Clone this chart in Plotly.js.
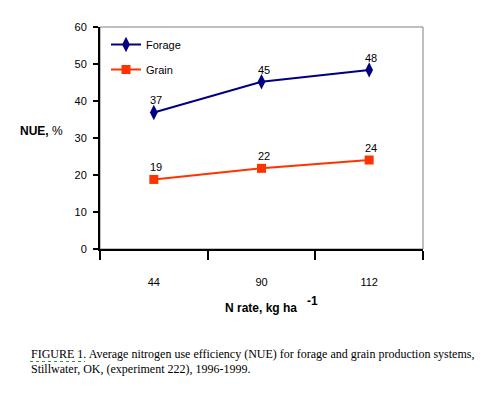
<!DOCTYPE html>
<html><head><meta charset="utf-8">
<script src="https://cdn.plot.ly/plotly-3.0.1.min.js"></script>
<style>body{margin:0;background:#fff}#chart{width:496px;height:395px}</style>
</head><body><div id="chart"></div>
<script>
const categories = ["44", "90", "112"];
const forage = [36.9, 45.2, 48.4];
const grain = [18.8, 21.8, 24.05];
const seriesNames = ["Forage", "Grain"];
const yTicks = [0, 10, 20, 30, 40, 50, 60];

const W = 496, H = 395, L = 100, R = 73, T = 27, B = 146;
const pw = W - L - R, ph = H - T - B;
const px = x => (x - L) / pw;
const py = y => (H - B - y) / ph;

const font = {family: "Liberation Sans, Arial, sans-serif", size: 11, color: "#000"};

const traces = [
  {x: categories, y: forage, name: seriesNames[0], type: "scatter", mode: "lines+markers",
   legendgroup: "a",
   line: {color: "#000080", width: 2}, marker: {symbol: "diamond-tall", size: 11, color: "#000080"}},
  {x: categories, y: grain, name: seriesNames[1], type: "scatter", mode: "lines+markers",
   legendgroup: "b",
   line: {color: "#FF3300", width: 2}, marker: {symbol: "square", size: 9, color: "#FF3300"}}
];

const labelAnns = [];
[forage, grain].forEach(series => {
  series.forEach((v, i) => {
    labelAnns.push({x: i, y: v, xref: "x", yref: "y", text: String(Math.round(v)),
      showarrow: false, xanchor: "center", yanchor: "middle", yshift: 12, xshift: 2, font: font});
  });
});

const layout = {
  width: W, height: H,
  margin: {l: L, r: R, t: T, b: B, pad: 0},
  paper_bgcolor: "#fff", plot_bgcolor: "#fff",
  font: font,
  showlegend: true,
  legend: {x: px(106), y: py(30), xanchor: "left", yanchor: "top", bgcolor: "rgba(0,0,0,0)",
           font: font, tracegroupgap: 6, itemwidth: 30},
  xaxis: {type: "category", range: [-0.5, 2.5], tickson: "boundaries", ticks: "outside",
          ticklen: 9, tickwidth: 2, tickcolor: "#000", showline: true, linecolor: "#000", linewidth: 2,
          showgrid: false, zeroline: false, ticklabelstandoff: 22, tickfont: font, fixedrange: true},
  yaxis: {range: [0, 60], tickvals: yTicks, ticks: "outside", ticklen: 5, tickwidth: 2, tickcolor: "#000",
          showline: true, linecolor: "#000", linewidth: 2, showgrid: false, zeroline: false,
          ticklabelstandoff: 4, tickfont: font, fixedrange: true},
  shapes: [
    {type: "rect", xref: "paper", yref: "paper", x0: 0, x1: 1, y0: 0, y1: 1,
     line: {color: "#808080", width: 1}, fillcolor: "rgba(0,0,0,0)", layer: "below"},
    {type: "line", xref: "paper", yref: "paper", x0: px(30), x1: px(85), y0: py(361.5), y1: py(361.5),
     line: {color: "#2a9d2a", width: 1, dash: "dot"}}
  ],
  annotations: labelAnns.concat([
    {xref: "paper", yref: "paper", x: px(18), y: py(131), xanchor: "left", yanchor: "middle",
     text: "<b>NUE,</b> %", showarrow: false, font: {family: font.family, size: 12, color: "#000"}},
    {xref: "paper", yref: "paper", x: px(223), y: py(308), xanchor: "left", yanchor: "middle",
     text: "<b>N rate, kg ha</b>", showarrow: false, font: {family: font.family, size: 12, color: "#000"}},
    {xref: "paper", yref: "paper", x: px(305), y: py(301), xanchor: "left", yanchor: "middle",
     text: "<b>-1</b>", showarrow: false, font: {family: font.family, size: 12, color: "#000"}},
    {xref: "paper", yref: "paper", x: px(29), y: py(354), xanchor: "left", yanchor: "middle",
     text: "FIGURE 1. Average nitrogen use efficiency (NUE) for forage and grain production systems,",
     showarrow: false, font: {family: "Liberation Serif, Times New Roman, serif", size: 12, color: "#000"}},
    {xref: "paper", yref: "paper", x: px(29), y: py(369), xanchor: "left", yanchor: "middle",
     text: "Stillwater, OK, (experiment 222), 1996-1999.",
     showarrow: false, font: {family: "Liberation Serif, Times New Roman, serif", size: 12, color: "#000"}}
  ])
};

Plotly.newPlot("chart", traces, layout, {displayModeBar: false, staticPlot: true});
</script></body></html>
